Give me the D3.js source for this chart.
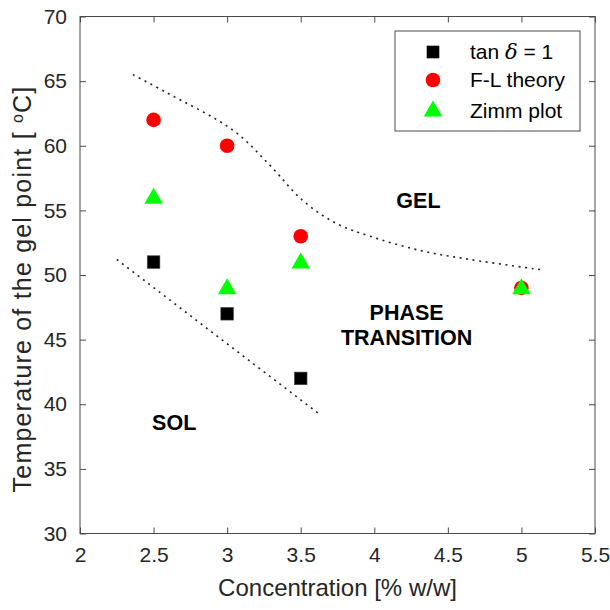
<!DOCTYPE html>
<html>
<head>
<meta charset="utf-8">
<script src="https://cdn.jsdelivr.net/npm/d3@7"></script>
<style>
  body { margin: 0; background: #fff; }
  svg { display: block; font-family: "Liberation Sans", Arial, Helvetica, sans-serif; }
</style>
</head>
<body>
<div id="chart"></div>
<script>
// ==========================================================================
// DATA
// ==========================================================================

const concTan = [2.5, 3, 3.5];
const tempTan = [51, 47, 42];

const concFL = [2.5, 3, 3.5, 5];
const tempFL = [62, 60, 53, 49];

const concZimm = [2.5, 3, 3.5, 5];
const tempZimm = [56, 49, 51, 49];

// dotted boundaries
const upperLineX = [2.36, 2.59, 3.04, 3.29, 3.51, 3.74, 3.97, 4.31, 4.65, 5.14];
const upperLineY = [65.5, 64.1, 61.2, 58.5, 55.8, 54.0, 53.0, 51.9, 51.2, 50.4];
const lowerLineX = [2.25, 3.62];
const lowerLineY = [51.2, 39.3];

const xTicks = [2, 2.5, 3, 3.5, 4, 4.5, 5, 5.5];
const yTicks = [30, 35, 40, 45, 50, 55, 60, 65, 70];

const legendLabels = ['tan', 'F-L theory', 'Zimm plot'];

// ==========================================================================
// CONFIG
// ==========================================================================

const W = 610, H = 610;
const plot = { left: 80, right: 595, top: 16.5, bottom: 533.5 };
const axisColor = '#4a4a4a';
const textColor = '#262626';
const tickSize = 21;
const titleSize = 24;
const labelSize = 21.5;

const svg = d3.select('#chart').append('svg')
    .attr('width', W)
    .attr('height', H);

const x = d3.scaleLinear().domain([2, 5.5]).range([plot.left, plot.right]);
const y = d3.scaleLinear().domain([30, 70]).range([plot.bottom, plot.top]);

const innerW = plot.right - plot.left;
const innerH = plot.bottom - plot.top;

// ==========================================================================
// AXES (box with inward ticks on all sides)
// ==========================================================================

function styleAxis(g, showText) {
    g.select('.domain').remove();
    g.selectAll('.tick line').attr('stroke', axisColor).attr('stroke-width', 1);
    g.selectAll('.tick text')
        .attr('fill', textColor)
        .style('font-size', tickSize + 'px')
        .style('display', showText ? null : 'none');
}

svg.append('g')
    .attr('transform', `translate(0,${plot.bottom})`)
    .call(d3.axisBottom(x).tickValues(xTicks).tickFormat(d3.format('')).tickSizeInner(-6).tickSizeOuter(0).tickPadding(14))
    .call(g => styleAxis(g, true));

svg.append('g')
    .attr('transform', `translate(0,${plot.top})`)
    .call(d3.axisTop(x).tickValues(xTicks).tickSizeInner(-6).tickSizeOuter(0))
    .call(g => styleAxis(g, false));

svg.append('g')
    .attr('transform', `translate(${plot.left},0)`)
    .call(d3.axisLeft(y).tickValues(yTicks).tickSizeInner(-6).tickSizeOuter(0).tickPadding(13))
    .call(g => styleAxis(g, true));

svg.append('g')
    .attr('transform', `translate(${plot.right},0)`)
    .call(d3.axisRight(y).tickValues(yTicks).tickSizeInner(-6).tickSizeOuter(0))
    .call(g => styleAxis(g, false));

svg.append('rect')
    .attr('x', plot.left)
    .attr('y', plot.top)
    .attr('width', innerW)
    .attr('height', innerH)
    .attr('fill', 'none')
    .attr('stroke', axisColor)
    .attr('stroke-width', 1);

// axis titles
svg.append('text')
    .attr('x', (plot.left + plot.right) / 2)
    .attr('y', 596)
    .attr('text-anchor', 'middle')
    .attr('fill', textColor)
    .style('font-size', titleSize + 'px')
    .text('Concentration [% w/w]');

const yTitle = svg.append('text')
    .attr('transform', `translate(31,289) rotate(-90)`)
    .attr('text-anchor', 'middle')
    .attr('fill', textColor)
    .style('font-size', '25px')
    .style('letter-spacing', '1.2px');
yTitle.append('tspan').text('Temperature of the gel point [ ');
yTitle.append('tspan').attr('dy', -8).style('font-size', '16px').text('o');
yTitle.append('tspan').attr('dy', 8).text('C]');

// ==========================================================================
// BOUNDARY LINES
// ==========================================================================

const line = d3.line()
    .x(d => x(d[0]))
    .y(d => y(d[1]))
    .curve(d3.curveCatmullRom.alpha(0.5));

svg.append('path')
    .datum(d3.zip(upperLineX, upperLineY))
    .attr('d', line)
    .attr('fill', 'none')
    .attr('stroke', '#222')
    .attr('stroke-width', 1.6)
    .attr('stroke-dasharray', '2,4.6');

svg.append('path')
    .datum(d3.zip(lowerLineX, lowerLineY))
    .attr('d', line)
    .attr('fill', 'none')
    .attr('stroke', '#222')
    .attr('stroke-width', 1.6)
    .attr('stroke-dasharray', '2,4.6');

// region labels
const regions = [
    { text: ['GEL'], cx: 4.3, cy: 55.2 },
    { text: ['PHASE', 'TRANSITION'], cx: 4.22, cy: 46.5 },
    { text: ['SOL'], cx: 2.64, cy: 38 }
];
regions.forEach(r => {
    const t = svg.append('text')
        .attr('text-anchor', 'middle')
        .attr('fill', '#000')
        .style('font-size', labelSize + 'px')
        .style('font-weight', 'bold');
    r.text.forEach((s, i) => {
        t.append('tspan')
            .attr('x', x(r.cx))
            .attr('y', y(r.cy) + i * 25)
            .text(s);
    });
});

// ==========================================================================
// MARKERS
// ==========================================================================

const triangle = (cx, cy, w, h) =>
    `M${cx},${cy - h * 0.6}L${cx + w / 2},${cy + h * 0.4}L${cx - w / 2},${cy + h * 0.4}Z`;

function drawSquares(g, xs, ys) {
    g.selectAll('rect.sq').data(d3.zip(xs, ys)).enter().append('rect')
        .attr('class', 'sq')
        .attr('x', d => x(d[0]) - 6.3)
        .attr('y', d => y(d[1]) - 6.3)
        .attr('width', 12.6)
        .attr('height', 12.6)
        .attr('fill', '#000')
        .attr('stroke', '#444')
        .attr('stroke-width', 0.6);
}

function drawCircles(g, xs, ys) {
    g.selectAll('circle.ci').data(d3.zip(xs, ys)).enter().append('circle')
        .attr('class', 'ci')
        .attr('cx', d => x(d[0]))
        .attr('cy', d => y(d[1]))
        .attr('r', 7.3)
        .attr('fill', '#ff0000');
}

function drawTriangles(g, xs, ys) {
    g.selectAll('path.tr').data(d3.zip(xs, ys)).enter().append('path')
        .attr('class', 'tr')
        .attr('d', d => triangle(x(d[0]), y(d[1]), 18.5, 16))
        .attr('fill', '#00ff00');
}

const marks = svg.append('g');
drawSquares(marks, concTan, tempTan);
drawCircles(marks, concFL, tempFL);
drawTriangles(marks, concZimm, tempZimm);

// ==========================================================================
// LEGEND
// ==========================================================================

const legend = svg.append('g');
legend.append('rect')
    .attr('x', 395)
    .attr('y', 31)
    .attr('width', 185)
    .attr('height', 100)
    .attr('fill', '#fff')
    .attr('stroke', axisColor)
    .attr('stroke-width', 1);

const legendRows = [52, 80, 111];
const mx = 433;
legend.append('rect')
    .attr('x', mx - 6.3).attr('y', legendRows[0] - 6.3)
    .attr('width', 12.6).attr('height', 12.6)
    .attr('fill', '#000');
legend.append('circle')
    .attr('cx', mx).attr('cy', legendRows[1]).attr('r', 7.3)
    .attr('fill', '#ff0000');
legend.append('path')
    .attr('d', triangle(mx, legendRows[2] - 1, 18.5, 16))
    .attr('fill', '#00ff00');

const lt0 = legend.append('text')
    .attr('x', 470).attr('y', legendRows[0] + 7)
    .attr('fill', '#000')
    .style('font-size', '21px');
lt0.append('tspan').text(legendLabels[0] + ' ');
lt0.append('tspan')
    .style('font-family', '"DejaVu Serif", "Liberation Serif", serif')
    .style('font-style', 'italic')
    .text('\u03B4');
lt0.append('tspan').text(' = 1');

legend.selectAll('text.lt').data(legendLabels.slice(1)).enter().append('text')
    .attr('class', 'lt')
    .attr('x', 470)
    .attr('y', (d, i) => legendRows[i + 1] + 7)
    .attr('fill', '#000')
    .style('font-size', '21px')
    .text(d => d);
</script>
</body>
</html>
